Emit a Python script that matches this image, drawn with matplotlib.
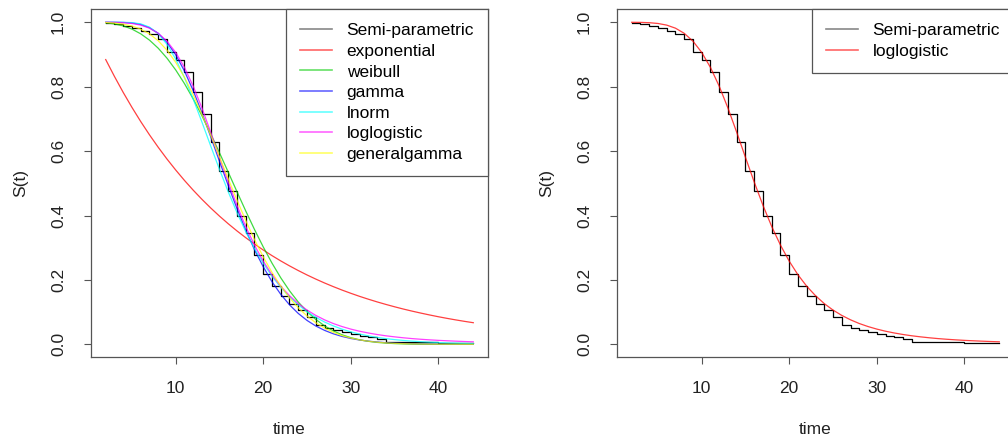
import matplotlib.pyplot as plt
from matplotlib.lines import Line2D
import numpy as np

plt.rcParams['font.family'] = ['Liberation Sans', 'DejaVu Sans']

# event times (one value per unit of time, 2..44)
time = np.arange(2, 45)

# Kaplan-Meier style step curve (value held from each time to the next)
km_surv = [0.999, 0.995, 0.989, 0.983, 0.974, 0.963, 0.947, 0.907, 0.883,
           0.847, 0.782, 0.715, 0.628, 0.539, 0.475, 0.400, 0.347, 0.276, 0.218,
           0.181, 0.150, 0.124, 0.106, 0.086, 0.060, 0.051, 0.045, 0.039, 0.032,
           0.026, 0.022, 0.016, 0.008, 0.008, 0.008, 0.008, 0.008, 0.008, 0.003,
           0.003, 0.003, 0.003, 0.003]

exponential = [0.8842, 0.8318, 0.7822, 0.7357, 0.6918, 0.6506, 0.6119, 0.5754, 0.5412,
               0.5089, 0.4786, 0.4501, 0.4233, 0.3981, 0.3744, 0.3521, 0.3311, 0.3114, 0.2929,
               0.2754, 0.2590, 0.2436, 0.2291, 0.2154, 0.2026, 0.1905, 0.1792, 0.1685, 0.1585,
               0.1490, 0.1402, 0.1318, 0.1240, 0.1166, 0.1096, 0.1031, 0.0970, 0.0912, 0.0857,
               0.0806, 0.0758, 0.0713, 0.0671]

weibull = [0.9985, 0.9951, 0.9888, 0.9788, 0.9642, 0.9446, 0.9195, 0.8886, 0.8519,
           0.8095, 0.7619, 0.7096, 0.6536, 0.5948, 0.5346, 0.4739, 0.4141, 0.3566, 0.3024,
           0.2521, 0.2066, 0.1663, 0.1313, 0.1018, 0.0773, 0.0575, 0.0418, 0.0297, 0.0207,
           0.0141, 0.0093, 0.0060, 0.0038, 0.0023, 0.0014, 0.0008, 0.0005, 0.0002, 0.0001,
           0.0001, 0.0000, 0.0000, 0.0000]

gamma = [1.0000, 0.9999, 0.9995, 0.9978, 0.9932, 0.9833, 0.9657, 0.9378, 0.8990,
         0.8485, 0.7877, 0.7184, 0.6443, 0.5683, 0.4933, 0.4215, 0.3546, 0.2939, 0.2407,
         0.1943, 0.1553, 0.1226, 0.0959, 0.0742, 0.0569, 0.0434, 0.0327, 0.0245, 0.0182,
         0.0134, 0.0099, 0.0072, 0.0052, 0.0038, 0.0027, 0.0020, 0.0014, 0.0010, 0.0007,
         0.0005, 0.0004, 0.0003, 0.0002]

lnorm = [1.0000, 1.0000, 0.9999, 0.9990, 0.9951, 0.9849, 0.9646, 0.9317, 0.8857,
         0.8279, 0.7615, 0.6897, 0.6156, 0.5430, 0.4735, 0.4090, 0.3501, 0.2977, 0.2517,
         0.2115, 0.1770, 0.1475, 0.1226, 0.1015, 0.0839, 0.0693, 0.0572, 0.0471, 0.0387,
         0.0319, 0.0262, 0.0215, 0.0177, 0.0146, 0.0120, 0.0099, 0.0081, 0.0067, 0.0055,
         0.0045, 0.0037, 0.0031, 0.0026]

loglogistic = [1.0000, 0.9997, 0.9987, 0.9963, 0.9912, 0.9817, 0.9658, 0.9413, 0.9064,
               0.8597, 0.8014, 0.7333, 0.6582, 0.5803, 0.5038, 0.4314, 0.3656, 0.3079, 0.2581,
               0.2157, 0.1803, 0.1510, 0.1265, 0.1064, 0.0898, 0.0761, 0.0646, 0.0552, 0.0473,
               0.0407, 0.0352, 0.0305, 0.0265, 0.0232, 0.0203, 0.0178, 0.0157, 0.0139, 0.0123,
               0.0110, 0.0098, 0.0087, 0.0078]

generalgamma = [0.9993, 0.9975, 0.9942, 0.9883, 0.9787, 0.9640, 0.9426, 0.9132, 0.8755,
                0.8290, 0.7748, 0.7140, 0.6490, 0.5816, 0.5140, 0.4477, 0.3844, 0.3253, 0.2716,
                0.2232, 0.1810, 0.1445, 0.1136, 0.0880, 0.0671, 0.0505, 0.0373, 0.0271, 0.0195,
                0.0138, 0.0096, 0.0066, 0.0045, 0.0031, 0.0021, 0.0014, 0.0010, 0.0006, 0.0004,
                0.0003, 0.0002, 0.0001, 0.0001]

left_models = [("exponential", exponential, "#FF0000"),
               ("weibull", weibull, "#00CD00"),
               ("gamma", gamma, "#0000FF"),
               ("lnorm", lnorm, "#00FFFF"),
               ("loglogistic", loglogistic, "#FF00FF"),
               ("generalgamma", generalgamma, "#FFFF00")]
right_models = [("loglogistic", loglogistic, "#FF0000")]

FS = 12.5
FRAME = "#555555"
W, H = 1008, 441


def draw_panel(ax, models):
    ax.plot(time, km_surv, drawstyle="steps-post", color="black", lw=0.9)
    for name, vals, col in models:
        ax.plot(time, vals, color=col, lw=0.9, alpha=0.75)

    ax.set_xlim(0.32, 45.68)
    ax.set_ylim(-0.04, 1.04)
    ax.set_xticks([10, 20, 30, 40])
    ax.set_yticks([0.0, 0.2, 0.4, 0.6, 0.8, 1.0])
    ax.set_yticklabels(["0.0", "0.2", "0.4", "0.6", "0.8", "1.0"])
    ax.tick_params(length=5, width=0.8, color=FRAME, labelsize=FS,
                   labelcolor="#222222", direction="out")
    ax.tick_params(axis="x", pad=12)
    ax.tick_params(axis="y", pad=13)
    for lab in ax.get_yticklabels():
        lab.set_rotation(90)
        lab.set_va("center")
    for sp in ax.spines.values():
        sp.set_color(FRAME)
        sp.set_linewidth(0.9)

    ax.set_xlabel("time", fontsize=FS, color="#222222", va="center")
    ax.set_ylabel("S(t)", fontsize=FS, color="#222222", va="center")
    ax.xaxis.set_label_coords(0.5, -0.207)
    ax.yaxis.set_label_coords(-0.178, 0.5)

    handles = [Line2D([], [], color="#888888", lw=1.2)]
    labels = ["Semi-parametric"]
    for name, vals, col in models:
        handles.append(Line2D([], [], color=col, lw=1.2, alpha=0.6))
        labels.append(name)
    leg = ax.legend(handles, labels, loc="upper right", fontsize=FS,
                    borderaxespad=0, fancybox=False, framealpha=1,
                    edgecolor=FRAME, handlelength=1.85, handletextpad=0.85,
                    labelspacing=0.31, borderpad=0.8)
    leg.get_frame().set_linewidth(0.9)


fig = plt.figure(figsize=(W / 100, H / 100), dpi=100)
top, bottom = 9.4, 357.2
ax1 = fig.add_axes([91 / W, 1 - bottom / H, 397 / W, (bottom - top) / H])
ax2 = fig.add_axes([617 / W, 1 - bottom / H, 397 / W, (bottom - top) / H])

draw_panel(ax1, left_models)
draw_panel(ax2, right_models)

fig.savefig("out.png", dpi=100)
